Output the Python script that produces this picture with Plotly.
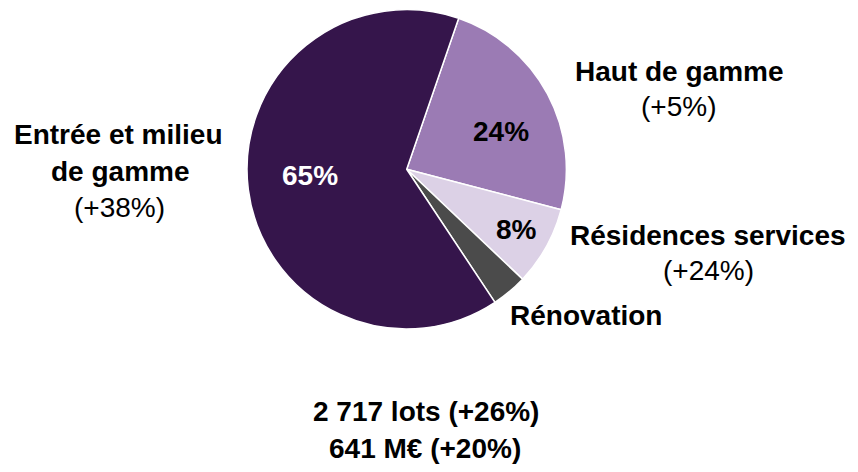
import plotly.graph_objects as go

# Data
segments = ["Haut de gamme", "Résidences services", "Rénovation", "Entrée et milieu de gamme"]
shares = [23.8, 8.0, 3.6, 64.6]
share_labels = ["24%", "8%", "", "65%"]
growth_labels = ["(+5%)", "(+24%)", "", "(+38%)"]
total_lines = ["2 717 lots (+26%)", "641 M€ (+20%)"]

colors = ["#9b7bb4", "#dcd1e6", "#4b4b4b", "#35154b"]
text_colors = ["#000000", "#000000", "#ffffff", "#ffffff"]

FONT = "Liberation Sans, Arial, sans-serif"
FS = 28
W, H = 858, 472

fig = go.Figure()
fig.add_trace(go.Pie(
    labels=segments,
    values=shares,
    textinfo="none",
    sort=False,
    direction="clockwise",
    rotation=19,
    marker=dict(colors=colors, line=dict(color="#ffffff", width=1.5)),
    domain=dict(x=[0.2879, 0.6601], y=[0.3030, 0.9797]),
    hoverinfo="skip",
    showlegend=False,
))

def yb(baseline):
    # paper y of text middle given pixel baseline
    return 1 - (baseline - 0.3465 * FS) / H

annos = []
def add(text, cx, baseline, bold=True, color="#000000"):
    annos.append(dict(
        text=f"<b>{text}</b>" if bold else text,
        x=cx / W, y=yb(baseline), xref="paper", yref="paper",
        xanchor="center", yanchor="middle", showarrow=False,
        font=dict(family=FONT, size=FS, color=color),
    ))

# Slice percentages
add(share_labels[0], 501, 141.7, color=text_colors[0])
add(share_labels[1], 516, 239.3, color=text_colors[1])
add(share_labels[3], 310.3, 185.7, color=text_colors[3])

# Category labels
add("Entrée et milieu", 118, 144.5)
add("de gamme", 120, 181)
add(growth_labels[3], 119.7, 217, bold=False)
add(segments[0], 679, 81)
add(growth_labels[0], 678.3, 116.7, bold=False)
add(segments[1], 707.5, 245)
add(growth_labels[1], 708.3, 280, bold=False)
add(segments[2], 586, 325)
# Totals
add(total_lines[0], 425.5, 421.7)
add(total_lines[1], 425, 458)

fig.update_layout(
    width=W, height=H,
    margin=dict(l=0, r=0, t=0, b=0),
    paper_bgcolor="#ffffff",
    plot_bgcolor="#ffffff",
    annotations=annos,
    font=dict(family=FONT),
)

fig.write_html(
    "out.html",
    config={"displayModeBar": False, "staticPlot": True},
    post_script="document.body.style.margin='0';document.body.style.overflow='hidden';",
)
